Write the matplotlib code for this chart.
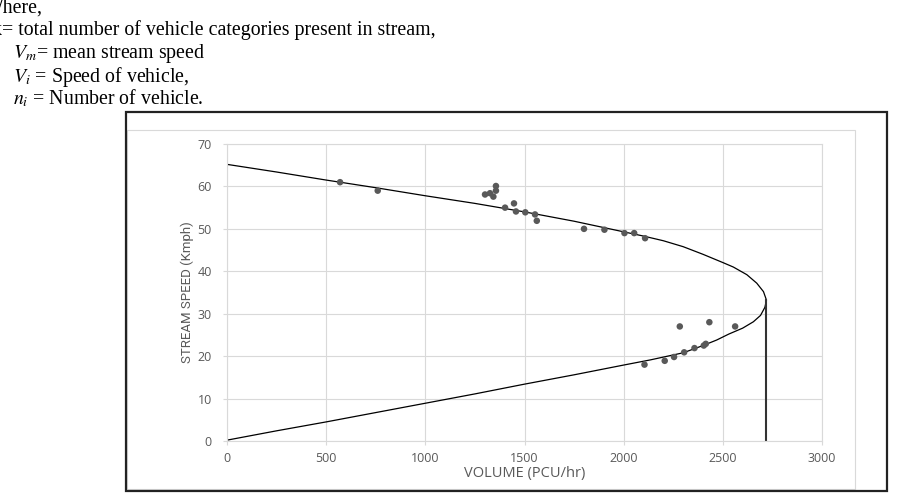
import matplotlib.pyplot as plt
from matplotlib.patches import Rectangle

# speed-flow curve: upper branch out to the nose, then lower branch back
curve_volume = [0, 250, 500, 750, 1000, 1250, 1500, 1750, 2000, 2100, 2200, 2300, 2400, 2503, 2553, 2621, 2671,
                2705, 2720, 2712, 2690, 2654, 2600, 2530, 2469, 2400, 2301, 2133, 2000, 1750, 1500, 1250, 1000,
                750, 500, 250, 0]
curve_speed = [65.2, 63.4, 61.5, 59.7, 57.8, 56.0, 54.0, 51.8, 49.3, 48.3, 47.2, 45.8, 44.0, 42.0, 41.0, 39.2, 37.2,
               35.2, 33.2, 31.5, 29.6, 28.1, 26.6, 25.2, 23.8, 22.5, 20.8, 19.1, 17.9, 15.6, 13.4, 11.1, 8.9,
               6.7, 4.5, 2.4, 0.2]

# observed points
obs_volume = [570, 760, 1356, 1356, 1326, 1301, 1343, 1402, 1447, 1457, 1504, 1553, 1562,
              1800, 1903, 2004, 2053, 2108,
              2105, 2207, 2254, 2305, 2357, 2404, 2414, 2283, 2432, 2562]
obs_speed = [61.0, 59.0, 60.1, 59.0, 58.4, 58.1, 57.6, 55.0, 56.0, 54.1, 53.9, 53.4, 51.9,
             50.0, 49.8, 49.0, 49.0, 47.8,
             18.0, 18.9, 19.8, 20.9, 21.9, 22.5, 22.9, 27.0, 28.0, 27.0]

capacity_volume = 2720
capacity_speed = 33.2

x_ticks = [0, 500, 1000, 1500, 2000, 2500, 3000]
y_ticks = [0, 10, 20, 30, 40, 50, 60, 70]

W, H = 924, 496
plt.rcParams['mathtext.fontset'] = 'stix'
fig = plt.figure(figsize=(W / 100, H / 100), dpi=100)


def fx(x):
    return x / W


def fy(y):
    return 1 - y / H


# document text above the chart
serif = dict(family='Liberation Serif', fontsize=14.3, color='black', va='baseline', ha='left')
fig.text(fx(-15), fy(13), 'Where,', **serif)
fig.text(fx(-8), fy(35), 'k= total number of vehicle categories present in stream,', **serif)
fig.text(fx(13), fy(58), '$V_m$= mean stream speed', **serif)
fig.text(fx(13), fy(82), '$V_i$ = Speed of vehicle,', **serif)
fig.text(fx(13), fy(104), '$n_i$ = Number of vehicle.', **serif)

# chart frame
fig.patches.append(Rectangle((fx(127), fy(489)), (855 - 127) / W, (489 - 130) / H,
                             transform=fig.transFigure, fill=False, ec='#d9d9d9', lw=0.8))
fig.patches.append(Rectangle((fx(126), fy(491)), (887 - 126) / W, (491 - 112) / H,
                             transform=fig.transFigure, fill=False, ec='#222222', lw=1.6))

ax = fig.add_axes([fx(227), fy(441), 595 / W, 297 / H])
ax.plot(curve_volume, curve_speed, color='black', lw=0.9)
ax.plot([capacity_volume, capacity_volume], [capacity_speed, 0], color='#333333', lw=1.5)
ax.scatter(obs_volume, obs_speed, s=22, color='#595959', edgecolors='none', zorder=3)

ax.set_xlim(0, 3000)
ax.set_ylim(0, 70)
ax.set_xticks(x_ticks)
ax.set_yticks(y_ticks)
ax.grid(True, color='#d9d9d9', lw=0.8)
ax.set_axisbelow(True)
for s in ax.spines.values():
    s.set_color('#d9d9d9')
    s.set_linewidth(0.8)
ax.tick_params(axis='both', colors='#d9d9d9', length=3, width=0.8, labelcolor='#595959', labelsize=9)
ax.tick_params(axis='y', pad=8)
ax.tick_params(axis='x', pad=5)
for lab in ax.get_xticklabels() + ax.get_yticklabels():
    lab.set_family('Open Sans')

ax.set_xlabel('VOLUME (PCU/hr)', family='Open Sans', fontsize=10.5, color='#595959', va='center')
ax.xaxis.set_label_coords(0.5, -(473 - 441) / 297)
ax.set_ylabel('STREAM SPEED (Kmph)', family='Roboto', fontsize=9.5, color='#595959', va='center')
ax.yaxis.set_label_coords((187 - 227) / 595, 0.5)

fig.savefig('out.png', dpi=100)
